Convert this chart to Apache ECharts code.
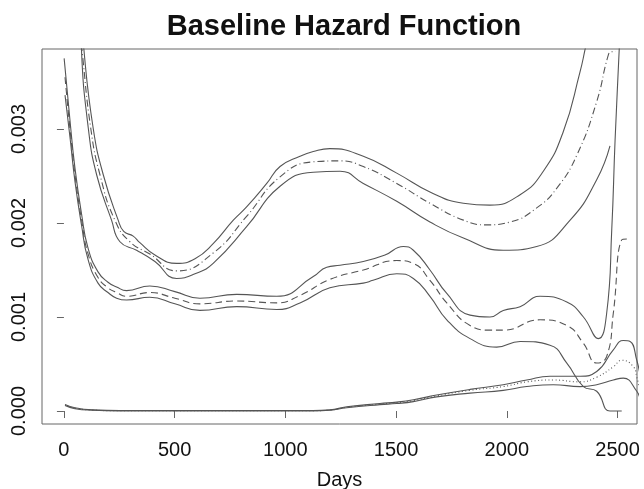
<!DOCTYPE html>
<html>
<head>
<meta charset="utf-8">
<script src="https://cdn.jsdelivr.net/npm/echarts@6/dist/echarts.min.js"></script>
<style>html,body{margin:0;padding:0;background:#fff;}#c{width:644px;height:489px;}</style>
</head>
<body>
<div id="c"></div>
<script>
// ---- data (day, hazard) ----
var titleText = 'Baseline Hazard Function';
var xName = 'Days';
var xTicks = [0, 500, 1000, 1500, 2000, 2500];
var yTicks = [0, 0.001, 0.002, 0.003];

// Group A (dot-dash estimate with solid bounds)
var aCenter = [[72,0.00405],[81,0.00385],[121,0.00301],[163,0.00251],[230,0.00203],[298,0.00180],[388,0.00167],[509,0.00149],[674,0.00168],[825,0.00207],[976,0.00249],[1126,0.00265],[1247,0.00266],[1352,0.00260],[1503,0.00242],[1653,0.00221],[1804,0.00203],[1909,0.00198],[2015,0.00201],[2135,0.00216],[2226,0.00237],[2316,0.00272],[2406,0.00329],[2459,0.00379],[2474,0.00382],[2493,0.00382]];
var aUpper = [[86,0.00405],[90,0.00385],[132,0.00301],[178,0.00251],[245,0.00203],[270,0.00191],[313,0.00186],[343,0.00179],[411,0.00166],[509,0.00157],[592,0.00162],[674,0.00178],[765,0.00203],[825,0.00217],[916,0.00242],[976,0.00260],[1066,0.00271],[1126,0.00276],[1201,0.00279],[1352,0.00271],[1503,0.00253],[1653,0.00233],[1804,0.00221],[1924,0.00219],[2060,0.00230],[2165,0.00255],[2255,0.00297],[2331,0.00361],[2353,0.00384],[2367,0.00400]];
var aLower = [[77,0.00405],[79,0.00385],[110,0.00301],[148,0.00251],[215,0.00203],[253,0.00180],[328,0.00171],[411,0.00159],[509,0.00141],[592,0.00146],[674,0.00157],[825,0.00196],[976,0.00239],[1126,0.00254],[1247,0.00255],[1352,0.00242],[1503,0.00223],[1653,0.00201],[1804,0.00184],[1984,0.00171],[2135,0.00175],[2286,0.00203],[2406,0.00246],[2466,0.00282]];

// Group B (dashed estimate with solid bounds)
var bCenter = [[5,0.00355],[27,0.00301],[50,0.00251],[80,0.00203],[108,0.00168],[154,0.00142],[199,0.00131],[238,0.00126],[283,0.00122],[388,0.00126],[501,0.00120],[614,0.00114],[780,0.00117],[961,0.00115],[1066,0.00123],[1201,0.00140],[1352,0.00150],[1503,0.00160],[1578,0.00157],[1653,0.00139],[1729,0.00115],[1834,0.00091],[1924,0.00086],[1984,0.00086],[2150,0.00097],[2271,0.00091],[2346,0.00072],[2406,0.00051],[2451,0.00058],[2481,0.00104],[2519,0.00182],[2542,0.00183]];
var bUpper = [[1,0.00375],[27,0.00310],[50,0.00258],[80,0.00209],[108,0.00174],[154,0.00148],[199,0.00137],[238,0.00132],[283,0.00128],[388,0.00133],[501,0.00127],[614,0.00120],[780,0.00124],[961,0.00122],[1126,0.00143],[1187,0.00153],[1247,0.00155],[1352,0.00159],[1450,0.00166],[1533,0.00175],[1578,0.00171],[1653,0.00150],[1729,0.00125],[1834,0.00102],[1924,0.00100],[1984,0.00107],[2060,0.00111],[2150,0.00122],[2271,0.00116],[2346,0.00100],[2413,0.00077],[2451,0.00104],[2474,0.00193],[2489,0.00288],[2508,0.00386],[2511,0.00405]];
var bLower = [[5,0.00336],[27,0.00292],[50,0.00244],[80,0.00197],[108,0.00162],[154,0.00136],[199,0.00126],[238,0.00120],[283,0.00118],[388,0.00121],[501,0.00114],[614,0.00107],[780,0.00111],[961,0.00108],[1066,0.00115],[1201,0.00131],[1352,0.00136],[1396,0.00139],[1503,0.00146],[1578,0.00141],[1653,0.00122],[1729,0.00097],[1834,0.00077],[1954,0.00068],[2060,0.00074],[2195,0.00070],[2271,0.00051],[2346,0.00026],[2406,0.00021],[2466,0.0],[2519,0.0]];

// Group C (dotted estimate with solid bounds)
var cCenter = [[5,0.000064],[50,0.00003],[132,0.00001],[253,0.000003],[1125,0.000003],[1201,0.00001],[1277,0.00004],[1427,0.000074],[1503,0.000088],[1578,0.00011],[1683,0.00016],[1834,0.00022],[1984,0.00026],[2090,0.00031],[2210,0.00033],[2331,0.00031],[2406,0.00036],[2481,0.00047],[2519,0.00054],[2572,0.00047],[2587,0.00036],[2602,0.00022]];
var cUpper = [[5,0.00007],[50,0.000035],[132,0.000012],[253,0.000005],[1125,0.000005],[1201,0.000012],[1277,0.000045],[1427,0.00008],[1503,0.000095],[1578,0.00012],[1683,0.00017],[1834,0.00023],[1984,0.00028],[2090,0.00033],[2195,0.00037],[2331,0.00037],[2406,0.00042],[2481,0.00065],[2526,0.00075],[2557,0.00074],[2587,0.00054],[2602,0.00038]];
var cLower = [[5,0.000058],[50,0.000025],[132,0.000008],[253,0.000001],[1125,0.0],[1201,0.000008],[1277,0.000035],[1427,0.000068],[1503,0.00008],[1578,0.0001],[1683,0.00015],[1834,0.00019],[1984,0.00022],[2090,0.00026],[2210,0.00028],[2331,0.00026],[2406,0.00028],[2481,0.00033],[2526,0.00035],[2587,0.00021],[2602,0.00012]];

var LINE = '#555';
var FONT = 'Liberation Sans, Arial, sans-serif';

function mk(name, data, type) {
  return {
    name: name, type: 'line', data: data, symbol: 'none',
    smooth: 0.5, clip: true, silent: true,
    lineStyle: { color: LINE, width: 1.1, type: type || 'solid' },
    z: 3
  };
}

var chart = echarts.init(document.getElementById('c'), null, { renderer: 'canvas' });
chart.setOption({
  animation: false,
  backgroundColor: '#fff',
  title: {
    text: titleText, left: 339, top: 7, textAlign: 'center',
    textStyle: { fontFamily: FONT, fontWeight: 'bold', fontSize: 29, color: '#111' }
  },
  grid: { left: 42, right: 7, top: 49, bottom: 65, show: true, borderColor: '#666', borderWidth: 1, backgroundColor: 'transparent', containLabel: false, outerBoundsMode: 'none' },
  xAxis: {
    type: 'value', min: -99, max: 2588,
    name: xName, nameLocation: 'middle', nameGap: 46,
    nameTextStyle: { fontFamily: FONT, fontSize: 20, color: '#111' },
    axisLine: { show: false },
    splitLine: { show: false },
    axisTick: { show: true, inside: false, length: 7, customValues: xTicks, lineStyle: { color: '#666', width: 1 } },
    axisLabel: { customValues: xTicks, margin: 16, fontFamily: FONT, fontSize: 20, color: '#111',
      formatter: function (v) { return String(v); } }
  },
  yAxis: {
    type: 'value', min: -0.000138, max: 0.00385,
    axisLine: { show: false },
    splitLine: { show: false },
    axisTick: { show: true, inside: false, length: 7, customValues: yTicks, lineStyle: { color: '#666', width: 1 } },
    axisLabel: {
      customValues: yTicks, rotate: 90, margin: 13, fontFamily: FONT, fontSize: 20, color: '#111',
      formatter: function (v) { return v.toFixed(3); }
    }
  },
  series: [
    mk('A upper', aUpper), mk('A estimate', aCenter, [7, 3, 1, 3]), mk('A lower', aLower),
    mk('B upper', bUpper), mk('B estimate', bCenter, [7, 4]), mk('B lower', bLower),
    mk('C upper', cUpper), mk('C estimate', cCenter, [1, 2.5]), mk('C lower', cLower)
  ]
});
</script>
</body>
</html>
